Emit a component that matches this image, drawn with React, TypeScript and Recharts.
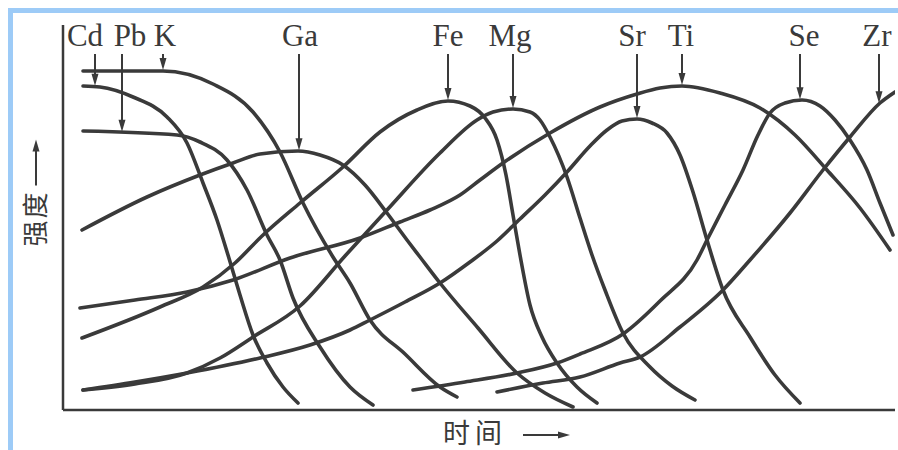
import { LineChart, Line, XAxis, YAxis, ReferenceLine, ReferenceDot, Label } from "recharts";

// Elution profiles: t = time along the run, v = signal intensity (arbitrary units)
const ELEMENTS = ["Cd", "Pb", "K", "Ga", "Fe", "Mg", "Sr", "Ti", "Se", "Zr"];

const CD = [[20, 324], [37, 323], [70, 313], [104, 293], [124, 267], [140, 227], [154, 190], [165, 155], [177, 115], [190, 75], [204, 47], [220, 23], [235, 7]];
const PB = [[20, 279], [114, 275], [137, 268], [164, 250], [184, 220], [204, 175], [217, 150], [230, 112], [257, 63], [287, 23], [310, 5]];
const K = [[20, 339], [100, 339], [150, 326], [190, 298], [217, 258], [240, 207], [270, 153], [287, 127], [307, 90], [342, 56], [377, 23], [394, 13]];
const GA = [[19, 180], [84, 213], [137, 235], [170, 247], [197, 256], [235, 259], [257, 255], [280, 245], [302, 225], [324, 197], [344, 170], [357, 153], [377, 127], [415, 82], [454, 37], [482, 17], [510, 3]];
const FE = [[19, 72], [97, 103], [140, 123], [172, 147], [199, 174], [237, 207], [280, 243], [317, 278], [354, 300], [385, 309], [407, 304], [422, 292], [434, 270], [443, 235], [450, 195], [457, 155], [467, 105], [479, 73], [494, 47], [514, 23], [534, 7]];
const MG = [[20, 20], [72, 26], [124, 37], [157, 52], [190, 73], [237, 104], [282, 154], [324, 200], [377, 257], [414, 290], [430, 298], [450, 301], [467, 298], [477, 290], [487, 273], [504, 233], [517, 192], [529, 155], [542, 120], [560, 77], [587, 43], [609, 24], [632, 10]];
const SR = [[20, 20], [72, 28], [124, 37], [197, 52], [247, 65], [287, 80], [307, 90], [342, 108], [377, 127], [407, 148], [434, 169], [457, 191], [482, 215], [504, 238], [527, 264], [544, 280], [559, 289], [574, 291], [589, 287], [604, 277], [617, 255], [630, 218], [644, 170], [660, 120], [687, 73], [712, 35], [737, 7]];
const TI = [[17, 102], [72, 110], [124, 118], [170, 130], [227, 152], [297, 172], [337, 188], [367, 200], [397, 215], [417, 230], [440, 247], [487, 277], [537, 303], [574, 316], [597, 322], [619, 324], [657, 317], [697, 302], [732, 275], [764, 240], [797, 202], [827, 160]];
const SE = [[350, 20], [402, 28], [454, 37], [494, 47], [517, 56], [560, 76], [597, 109], [634, 150], [644, 170], [662, 205], [680, 240], [695, 275], [707, 297], [722, 307], [739, 310], [757, 304], [772, 290], [787, 270], [804, 240], [817, 207], [830, 175]];
const ZR = [[434, 18], [480, 27], [517, 33], [557, 47], [577, 53], [617, 83], [660, 120], [687, 150], [727, 197], [760, 240], [787, 273], [817, 307], [832, 318]];

const CURVES = [CD, PB, K, GA, FE, MG, SR, TI, SE, ZR];

// where each pointer arrow hits its curve, and where its name sits
const ARROW_T = [32, 59, 100, 236, 385, 450, 574, 619, 737, 816];
const LABEL_T = [22, 67, 102, 237, 385, 447, 569, 618, 741, 814];
const ARROW_TOP = 356;
const LABEL_V = 364;

const T_MAX = 832;
const V_MAX = 385;

const INK = "#3a3a3a";
const FRAME = "#9dcbf7";
const SERIF = "'Liberation Serif', 'Times New Roman', serif";
const CJK = "'Noto Sans CJK SC', sans-serif";

const toRows = (pts: number[][]) => pts.map(([t, v]) => ({ t, v }));

// linear lookup so arrow tips land on the drawn curve
function valueAt(pts: number[][], t: number) {
  if (t <= pts[0][0]) return pts[0][1];
  for (let i = 1; i < pts.length; i++) {
    const [t0, v0] = pts[i - 1];
    const [t1, v1] = pts[i];
    if (t <= t1) return v0 + ((v1 - v0) * (t - t0)) / (t1 - t0);
  }
  return pts[pts.length - 1][1];
}

function Arrowhead(props: any) {
  const { cx, cy } = props;
  return <path d={`M${cx},${cy} L${cx - 3.5},${cy - 12} L${cx + 3.5},${cy - 12} Z`} fill={INK} />;
}

function IntensityTitle(props: any) {
  const { x, y, height } = props.viewBox;
  const cx = x - 30;
  const cy = y + height / 2 + 1;
  return (
    <g>
      <text
        transform={`translate(${cx},${cy}) rotate(-90)`}
        textAnchor="middle"
        dominantBaseline="central"
        fontFamily={CJK}
        fontSize={26}
        letterSpacing={2}
        fill={INK}
      >
        强度
      </text>
      <line x1={cx + 3} y1={cy - 33} x2={cx + 3} y2={cy - 70} stroke={INK} strokeWidth={2} />
      <path d={`M${cx + 3},${cy - 79} l-3.5,12 l7,0 Z`} fill={INK} />
    </g>
  );
}

function TimeTitle(props: any) {
  const { x, y } = props.viewBox;
  const left = x + 380;
  const base = y + 33;
  return (
    <g>
      <text x={left} y={base} fontFamily={CJK} fontSize={27} letterSpacing={5} fill={INK}>
        时间
      </text>
      <line x1={left + 80} y1={base - 8} x2={left + 118} y2={base - 8} stroke={INK} strokeWidth={2} />
      <path d={`M${left + 127},${base - 8} l-12,-3.5 l0,7 Z`} fill={INK} />
    </g>
  );
}

export default function App() {
  return (
    <div style={{ position: "absolute", left: 0, top: 0, width: 898, height: 450, background: "#fff" }}>
      <div
        style={{
          position: "absolute",
          left: 8,
          top: 8,
          right: 0,
          bottom: 0,
          borderLeft: `5px solid ${FRAME}`,
          borderTop: `5px solid ${FRAME}`,
        }}
      />
      <div style={{ position: "absolute", left: 0, top: 0 }}>
        <LineChart width={898} height={450} margin={{ top: 25, right: 3, bottom: 40, left: 63 }}>
          <XAxis type="number" dataKey="t" domain={[0, T_MAX]} hide allowDataOverflow />
          <YAxis type="number" domain={[0, V_MAX]} hide allowDataOverflow />
          {/* axis frame with its titles */}
          <ReferenceLine x={0} stroke={INK} strokeWidth={2.5}>
            <Label content={IntensityTitle} />
          </ReferenceLine>
          <ReferenceLine y={0} stroke={INK} strokeWidth={2.5}>
            <Label content={TimeTitle} />
          </ReferenceLine>
          {CURVES.map((pts, i) => (
            <Line
              key={ELEMENTS[i]}
              data={toRows(pts)}
              dataKey="v"
              name={ELEMENTS[i]}
              type="monotone"
              stroke={INK}
              strokeWidth={3.6}
              strokeLinecap="round"
              dot={false}
              activeDot={false}
              isAnimationActive={false}
            />
          ))}
          {CURVES.map((pts, i) => {
            const tip = valueAt(pts, ARROW_T[i]);
            return (
              <ReferenceLine
                key={`shaft-${ELEMENTS[i]}`}
                segment={[
                  { x: ARROW_T[i], y: ARROW_TOP },
                  { x: ARROW_T[i], y: tip + 8 },
                ]}
                stroke={INK}
                strokeWidth={2}
              />
            );
          })}
          {CURVES.map((pts, i) => (
            <ReferenceDot
              key={`head-${ELEMENTS[i]}`}
              x={ARROW_T[i]}
              y={valueAt(pts, ARROW_T[i]) + 1}
              shape={Arrowhead}
            />
          ))}
          {ELEMENTS.map((el, i) => (
            <ReferenceDot
              key={`name-${el}`}
              x={LABEL_T[i]}
              y={LABEL_V}
              shape={(p: any) => (
                <text x={p.cx} y={p.cy} textAnchor="middle" fontFamily={SERIF} fontSize={31} fill={INK}>
                  {el}
                </text>
              )}
            />
          ))}
        </LineChart>
      </div>
    </div>
  );
}
